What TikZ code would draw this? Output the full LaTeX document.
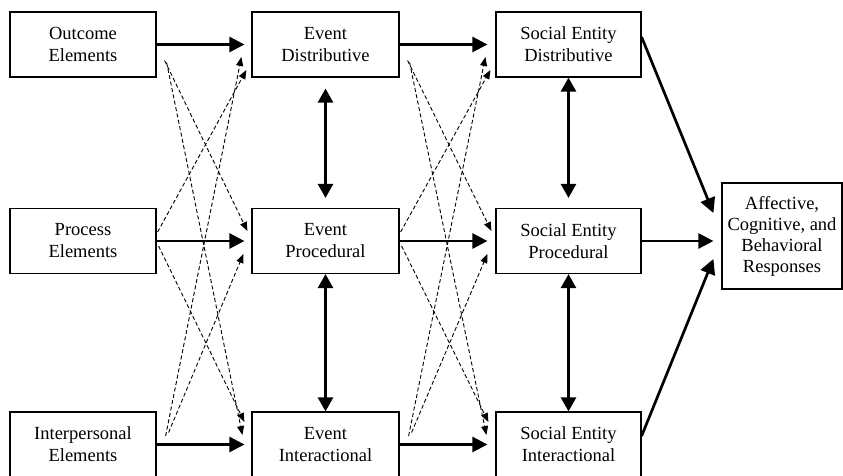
\documentclass[tikz,border=0pt]{standalone}
\usepackage{fontspec}
\setmainfont{Liberation Serif}
\usetikzlibrary{arrows.meta,calc}

\begin{document}
\begin{tikzpicture}[x=1pt,y=-1pt,
	box/.style={draw, line width=1.2pt, minimum height=65pt, align=center,
		inner sep=0pt, font=\fontsize{18.5}{22}\selectfont},
	flow/.style={line width=2.7pt, -{Triangle[length=15pt,width=15pt]}},
	link/.style={line width=2.7pt,
		{Triangle[length=14pt,width=15pt]}-{Triangle[length=14pt,width=15pt]}},
	cross/.style={line width=0.9pt, dash pattern=on 4pt off 2.5pt,
		-{Triangle[length=9pt,width=7pt]}}]
	\useasboundingbox (0,0) rectangle (843,476);
	
	% elements
	\node[box, minimum width=146pt] (oe) at (83,44.5) {Outcome\\Elements};
	\node[box, minimum width=146pt] (pe) at (83,241) {Process\\Elements};
	\node[box, minimum width=146pt] (ie) at (83,444.5) {Interpersonal\\Elements};
	
	% event
	\node[box, minimum width=147pt] (ed) at (325.5,44.5) {Event\\Distributive};
	\node[box, minimum width=147pt] (ep) at (325.5,241) {Event\\Procedural};
	\node[box, minimum width=147pt] (ei) at (325.5,444.5) {Event\\Interactional};
	
	% social entity
	\node[box, minimum width=145pt] (sd) at (568.5,44.5) {Social Entity\\Distributive};
	\node[box, minimum width=145pt] (sp) at (568.5,241) {Social Entity\\Procedural};
	\node[box, minimum width=145pt] (si) at (568.5,444.5) {Social Entity\\Interactional};
	
	\node[box, minimum width=120pt, minimum height=106pt,
		font=\fontsize{18.5}{21}\selectfont] (ar) at (782,236)
		{Affective,\\Cognitive, and\\Behavioral\\Responses};
	
	% straight paths
	\draw[flow, shorten >=7pt] (oe.east) -- (ed.west);
	\draw[flow, shorten >=7pt] (pe.east) -- (ep.west);
	\draw[flow, shorten >=7pt] (ie.east) -- (ei.west);
	\draw[flow, shorten >=8pt] (ed.east) -- (sd.west);
	\draw[flow, shorten >=8pt] (ep.east) -- (sp.west);
	\draw[flow, shorten >=8pt] (ei.east) -- (si.west);
	
	\draw[link] ($(ed.south)+(0,11)$) -- ($(ep.north)+(0,-10)$);
	\draw[link] (ep.south) -- (ei.north);
	\draw[link] (sd.south) -- ($(sp.north)+(0,-10)$);
	\draw[link] (sp.south) -- (si.north);
	
	\draw[flow] ($(sd.east)+(0,-7.5)$) -- ($(ar.west)+(-8,-23)$);
	\draw[flow] (sp.east) -- ($(ar.west)+(-8,5)$);
	\draw[flow] ($(si.east)+(0,-8.5)$) -- ($(ar.west)+(-8,23)$);
	
	% cross paths, elements to event
	\draw[cross] ($(oe.east)+(8,16)$) -- ($(ep.west)+(-4,-10)$);
	\draw[cross] ($(oe.east)+(10,18)$) -- ($(ei.west)+(-9,-9.5)$);
	\draw[cross] ($(pe.east)+(1,-9)$) -- ($(ed.west)+(-5,25.5)$);
	\draw[cross] ($(pe.east)+(2,5)$) -- ($(ei.west)+(-7,-22.5)$);
	\draw[cross] ($(ie.east)+(9,-8.5)$) -- ($(ed.west)+(-10,12.5)$);
	\draw[cross] ($(ie.east)+(12,-12)$) -- ($(ep.west)+(-8,13)$);
	
	% cross paths, event to social entity
	\draw[cross] ($(ed.east)+(8,16)$) -- ($(sp.west)+(-4,-10)$);
	\draw[cross] ($(ed.east)+(10,18)$) -- ($(si.west)+(-9,-9.5)$);
	\draw[cross] ($(ep.east)+(1,-9)$) -- ($(sd.west)+(-5,25.5)$);
	\draw[cross] ($(ep.east)+(2,5)$) -- ($(si.west)+(-7,-22.5)$);
	\draw[cross] ($(ei.east)+(9,-8.5)$) -- ($(sd.west)+(-10,12.5)$);
	\draw[cross] ($(ei.east)+(12,-12)$) -- ($(sp.west)+(-8,13)$);
\end{tikzpicture}
\end{document}
